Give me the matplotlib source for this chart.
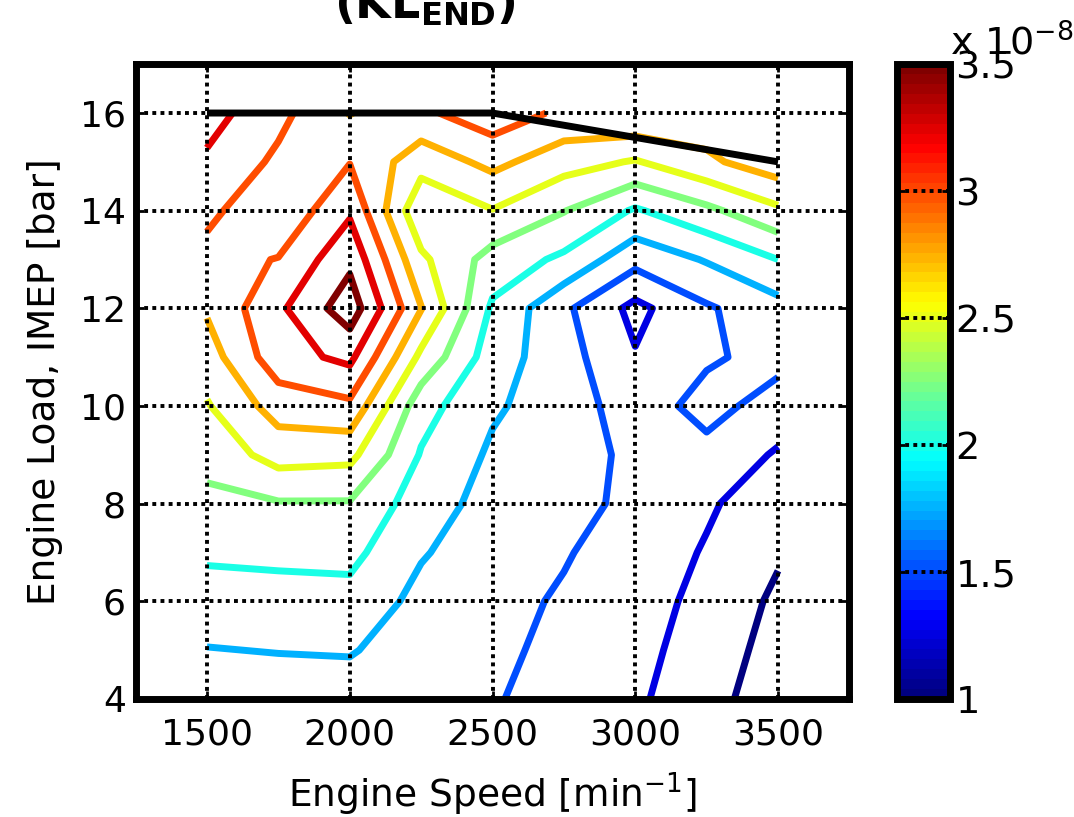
import numpy as np
import matplotlib
matplotlib.use("Agg")
import matplotlib.pyplot as plt
from matplotlib.colors import Normalize, LinearSegmentedColormap
from matplotlib.cm import ScalarMappable

plt.rcParams['font.family'] = ['DejaVu Sans']

# Engine map grid: speed columns [min^-1] and load rows [bar IMEP]
speeds = [1500, 1750, 2000, 2250, 2500, 2750, 3000, 3250, 3500]
loads = [4, 5, 6, 7, 8, 9, 10, 11, 12, 13, 14, 15, 16]

# Knock limit at end of combustion, units of 1e-8, one list per speed (load 4 -> 16)
kl_1500 = [1.59, 1.74, 1.89, 2.04, 2.19, 2.33, 2.48, 2.63, 2.78, 2.92, 3.06, 3.21, 3.35]
kl_1750 = [1.61, 1.76, 1.90, 2.06, 2.23, 2.60, 2.86, 3.15, 3.20, 3.01, 2.80, 2.95, 3.07]
kl_2000 = [1.625, 1.77, 1.915, 2.07, 2.23, 2.57, 2.945, 3.31, 3.64, 3.44, 3.21, 2.99, 2.74]
kl_2250 = [1.57, 1.62, 1.68, 1.77, 1.87, 1.98, 2.10, 2.44, 2.76, 2.55, 2.30, 2.60, 2.95]
kl_2500 = [1.52, 1.55, 1.58, 1.62, 1.66, 1.71, 1.785, 1.87, 1.96, 2.15, 2.49, 2.82, 3.15]
kl_2750 = [1.405, 1.44, 1.47, 1.52, 1.57, 1.60, 1.62, 1.60, 1.55, 1.95, 2.26, 2.60, 2.95]
kl_3000 = [1.29, 1.32, 1.34, 1.38, 1.45, 1.45, 1.38, 1.27, 1.18, 1.58, 1.97, 2.48, 2.99]
kl_3250 = [1.095, 1.143, 1.19, 1.23, 1.28, 1.43, 1.58, 1.47, 1.47, 1.77, 2.19, 2.70, 2.90]
kl_3500 = [0.85, 0.90, 0.95, 1.03, 1.12, 1.22, 1.40, 1.57, 1.66, 2.00, 2.45, 2.90, 2.98]

levels = [1.0, 1.25, 1.5, 1.75, 2.0, 2.25, 2.5, 2.75, 3.0, 3.25, 3.5]

# Full-load limit
wot_speed = [1500, 2000, 2500, 3000, 3500]
wot_load = [16, 16, 16, 15.5, 15]

x_ticks = [1500, 2000, 2500, 3000, 3500]
y_ticks = [4, 6, 8, 10, 12, 14, 16]
cbar_ticks = [1, 1.5, 2, 2.5, 3, 3.5]
cbar_labels = ['1', '1.5', '2', '2.5', '3', '3.5']

kl = np.column_stack([kl_1500, kl_1750, kl_2000, kl_2250, kl_2500,
                      kl_2750, kl_3000, kl_3250, kl_3500])

# Classic "jet" ramp (blue -> cyan -> yellow -> red -> dark red)
jet_spec = {
    'red':   [(0, 0, 0), (0.375, 0, 0), (0.625, 1, 1), (0.875, 1, 1), (1, 0.5, 0.5)],
    'green': [(0, 0, 0), (0.125, 0, 0), (0.375, 1, 1), (0.625, 1, 1), (0.875, 0, 0), (1, 0, 0)],
    'blue':  [(0, 0.5, 0.5), (0.125, 1, 1), (0.375, 1, 1), (0.625, 0, 0), (1, 0, 0)],
}
jet_line = LinearSegmentedColormap('jet_classic', jet_spec, N=256)
jet_bar = LinearSegmentedColormap('jet_classic64', jet_spec, N=64)

W, H = 1074, 817
fig = plt.figure(figsize=(W / 100, H / 100), dpi=100)
ax = fig.add_axes([135.6 / W, 1 - 699 / H, 713.8 / W, (699 - 64.2) / H])

norm = Normalize(vmin=1.0, vmax=3.5)
dots = (0, (1, 1.1))
grid_lw = 2.8

ax.contour(speeds, loads, kl, levels=levels, cmap=jet_line, norm=norm,
           linewidths=5, zorder=1.5)
ax.plot(wot_speed, wot_load, color='k', lw=5, zorder=3, solid_capstyle='butt')

ax.set_xlim(1250, 3750)
ax.set_ylim(4, 17)
ax.set_xticks(x_ticks)
ax.set_yticks(y_ticks)
ax.grid(True, color='k', linestyle=dots, linewidth=grid_lw)
ax.set_axisbelow(False)
for sp in ax.spines.values():
    sp.set_linewidth(5)
ax.tick_params(direction='in', length=6, width=2, top=True, right=True,
               labelsize=26)
ax.tick_params(axis='x', pad=13)
ax.tick_params(axis='y', pad=7)
ax.set_xlabel('Engine Speed [min$^{-1}$]', fontsize=27, labelpad=14)
ax.set_ylabel('Engine Load, IMEP [bar]', fontsize=27, labelpad=12)

# Colour scale
cax = fig.add_axes([897 / W, 1 - 699 / H, 53 / W, (699 - 64.2) / H])
sm = ScalarMappable(norm=norm, cmap=jet_bar)
cb = fig.colorbar(sm, cax=cax, ticks=cbar_ticks)
cb.ax.set_yticklabels(cbar_labels)
cb.outline.set_linewidth(5)
cax.tick_params(direction='in', length=6, width=2, labelsize=27.5, pad=4,
                left=True, right=True)
for t in cbar_ticks[1:-1]:
    cax.axhline(t, color='k', linestyle=dots, linewidth=grid_lw, zorder=3)
fig.text(950 / W, 1 - 55 / H, 'x 10$^{-8}$', fontsize=27.5,
         ha='left', va='baseline')

fig.text(425 / W, 1 - 18 / H, '(KL$_{\\mathbf{END}}$)', fontsize=33,
         fontweight='bold', ha='center', va='baseline')

fig.savefig('out.png', dpi=100)
